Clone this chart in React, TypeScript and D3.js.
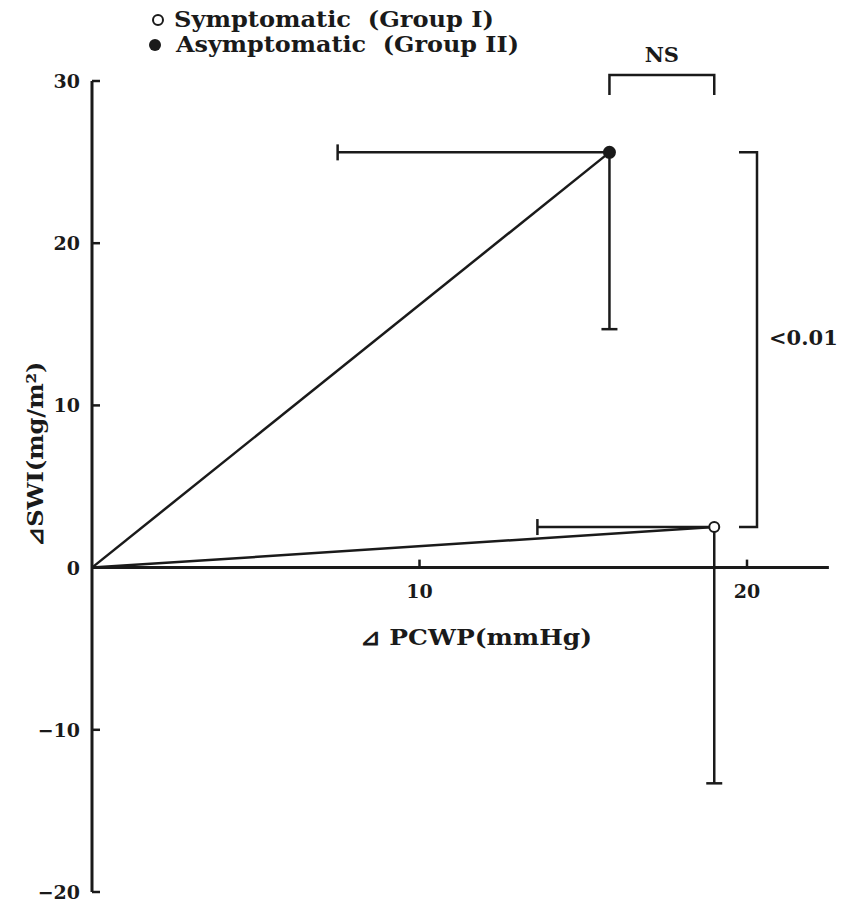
import React from 'react';
import * as d3 from 'd3';

// Group means and SDs
const GROUPS = ['Symptomatic  (Group I)', 'Asymptomatic  (Group II)'];
const FILLED = [false, true];
const MEAN_PCWP = [19.0, 15.8];
const MEAN_SWI = [2.5, 25.6];
const SD_PCWP = [5.4, 8.3];
const SD_SWI = [15.8, 10.9];

const X_TICKS = [10, 20];
const Y_TICKS = [30, 20, 10, 0, -10, -20];
const Y_TICK_LABELS = ['30', '20', '10', '0', '\u221210', '\u221220'];

const FONT = '"DejaVu Serif", "Liberation Serif", serif';

export default function App() {
  const width = 844;
  const height = 904;

  const x = d3.scaleLinear().domain([0, 20]).range([92, 747]);
  const y = d3.scaleLinear().domain([30, -20]).range([81, 892]);

  const x0 = x(0);
  const y0 = y(0);
  const xEnd = x(22.5);
  const ink = '#1a1a1a';

  const pts = GROUPS.map((g, i) => ({
    name: g,
    filled: FILLED[i],
    cx: x(MEAN_PCWP[i]),
    cy: y(MEAN_SWI[i]),
    xl: x(MEAN_PCWP[i] - SD_PCWP[i]),
    yb: y(MEAN_SWI[i] - SD_SWI[i]),
  }));

  const line = d3.line<[number, number]>();

  // brackets
  const nsY = 75;
  const nsDrop = 20;
  const pX = 757;

  // legend layout
  const legendY = [27, 52];
  const legendLen = [320, 343];

  return (
    <svg
      width={width}
      height={height}
      style={{ position: 'absolute', left: 0, top: 0, background: '#fff' }}
      fontFamily={FONT}
    >
      <rect width={width} height={height} fill="#fff" />

      {/* legend */}
      <g fontSize={22} fontWeight="bold" fill={ink}>
        {pts.map((p, i) => (
          <g key={p.name}>
            {p.filled ? (
              <circle cx={155} cy={legendY[i] - 7} r={6} fill={ink} />
            ) : (
              <circle cx={158} cy={legendY[i] - 7} r={5} fill="#fff" stroke={ink} strokeWidth={2} />
            )}
            <text
              x={p.filled ? 176 : 174}
              y={legendY[i]}
              textLength={legendLen[i]}
              lengthAdjust="spacingAndGlyphs"
              style={{ whiteSpace: 'pre' }}
            >
              {p.name}
            </text>
          </g>
        ))}
      </g>

      {/* y axis */}
      <line x1={x0} x2={x0} y1={y(30)} y2={y(-20)} stroke={ink} strokeWidth={3} />
      {Y_TICKS.map((t, i) => (
        <g key={t}>
          <line x1={x0} x2={x0 + 8} y1={y(t)} y2={y(t)} stroke={ink} strokeWidth={2.5} />
          <text
            x={80}
            y={y(t) + 7}
            textAnchor="end"
            fontSize={19}
            fontWeight="bold"
            fill={ink}
          >
            {Y_TICK_LABELS[i]}
          </text>
        </g>
      ))}
      <text
        transform="translate(43,454) rotate(-90)"
        textAnchor="middle"
        fontSize={22}
        fontWeight="bold"
        fill={ink}
        textLength={185}
        lengthAdjust="spacingAndGlyphs"
      >
        {'\u22BFSWI(mg/m\u00B2)'}
      </text>

      {/* x axis */}
      <line x1={x0} x2={xEnd} y1={y0} y2={y0} stroke={ink} strokeWidth={3} />
      {X_TICKS.map((t) => (
        <g key={t}>
          <line x1={x(t)} x2={x(t)} y1={y0} y2={y0 - 8} stroke={ink} strokeWidth={2.5} />
          <text x={x(t)} y={598} textAnchor="middle" fontSize={19} fontWeight="bold" fill={ink}>
            {t}
          </text>
        </g>
      ))}
      <text
        x={360}
        y={645}
        fontSize={23}
        fontWeight="bold"
        fill={ink}
        textLength={232}
        lengthAdjust="spacingAndGlyphs"
      >
        {'\u22BF PCWP(mmHg)'}
      </text>

      {/* lines from origin, error bars, points */}
      {pts.map((p) => (
        <g key={p.name} stroke={ink} strokeWidth={2.5} fill="none">
          <path d={line([[x0, y0], [p.cx, p.cy]]) ?? ''} />
          <path d={line([[p.xl, p.cy], [p.cx, p.cy]]) ?? ''} />
          <path d={line([[p.xl, p.cy - 8], [p.xl, p.cy + 8]]) ?? ''} />
          <path d={line([[p.cx, p.cy], [p.cx, p.yb]]) ?? ''} />
          <path d={line([[p.cx - 8, p.yb], [p.cx + 8, p.yb]]) ?? ''} />
          <circle
            cx={p.cx}
            cy={p.cy}
            r={p.filled ? 5.5 : 5}
            fill={p.filled ? ink : '#fff'}
            strokeWidth={2}
          />
        </g>
      ))}

      {/* NS bracket between group PCWP means */}
      <path
        d={
          line([
            [pts[1].cx, nsY + nsDrop],
            [pts[1].cx, nsY],
            [pts[0].cx, nsY],
            [pts[0].cx, nsY + nsDrop],
          ]) ?? ''
        }
        stroke={ink}
        strokeWidth={2.5}
        fill="none"
      />
      <text
        x={(pts[0].cx + pts[1].cx) / 2}
        y={62}
        textAnchor="middle"
        fontSize={21}
        fontWeight="bold"
        fill={ink}
      >
        NS
      </text>

      {/* p bracket between group SWI means */}
      <path
        d={
          line([
            [pX - 18, pts[1].cy],
            [pX, pts[1].cy],
            [pX, pts[0].cy],
            [pX - 18, pts[0].cy],
          ]) ?? ''
        }
        stroke={ink}
        strokeWidth={2.5}
        fill="none"
      />
      <text x={769} y={345} fontSize={21} fontWeight="bold" fill={ink}>
        {'<0.01'}
      </text>
    </svg>
  );
}
